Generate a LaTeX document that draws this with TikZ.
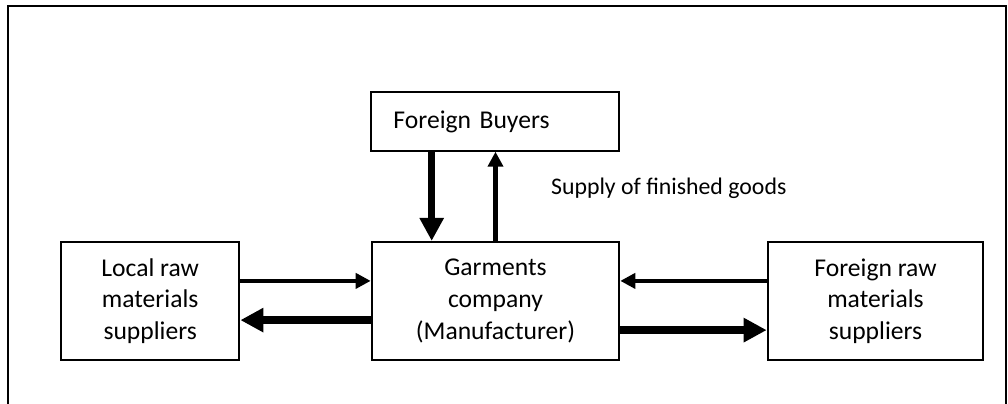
\documentclass[tikz,border=0pt]{standalone}
\usepackage{fontspec}
\setmainfont{Carlito}
\usetikzlibrary{arrows.meta, positioning}

\begin{document}
\begin{tikzpicture}[on grid,
    box/.style={draw,line width=1pt,minimum height=59pt,align=center,font=\fontsize{12.8}{15.8}\selectfont},
    thinarrow/.style={-{Triangle[length=7.5pt,width=7.5pt]},line width=2.2pt},
    thickarrow/.style={-{Triangle[length=11.5pt,width=11.5pt]},line width=3.7pt}]
  \useasboundingbox (-247.75pt,-51.05pt) rectangle (256.25pt,150.45pt);
  % outer frame, open at the bottom
  \draw[line width=1pt] (-243.6pt,-60pt) |- (255.25pt,147.45pt) -- (255.25pt,-60pt);

  \node[box,minimum width=123.8pt] (garments) {Garments\\company\\(Manufacturer)};
  \node[box,minimum width=89.2pt] (local) [left=172.65pt of garments] {Local raw\\materials\\suppliers};
  \node[box,minimum width=107.8pt] (foreign) [right=190pt of garments] {Foreign raw\\materials\\suppliers};
  \node[box,minimum height=29.2pt,inner xsep=11pt,text width=102pt,align=left] (buyers) [above=89.7pt of garments] {Foreign Buyers};
  \node[anchor=west,inner sep=0pt,font=\fontsize{11.9}{14}\selectfont] (supply) at ([xshift=27.6pt,yshift=56.5pt]garments.center) {Supply of finished goods};

  \draw[thickarrow] ([xshift=-31.9pt]buyers.south) -- ([xshift=-31.9pt]garments.north);
  \draw[thinarrow] (garments.north) -- (buyers.south);
  \draw[thinarrow] ([yshift=10pt]local.east) -- ([yshift=10pt]garments.west);
  \draw[thickarrow] ([yshift=-9.6pt]garments.west) -- ([yshift=-9.6pt]local.east);
  \draw[thinarrow] ([yshift=10pt]foreign.west) -- ([yshift=10pt]garments.east);
  \draw[thickarrow] ([yshift=-14.6pt]garments.east) -- ([yshift=-14.6pt]foreign.west);
\end{tikzpicture}
\end{document}
